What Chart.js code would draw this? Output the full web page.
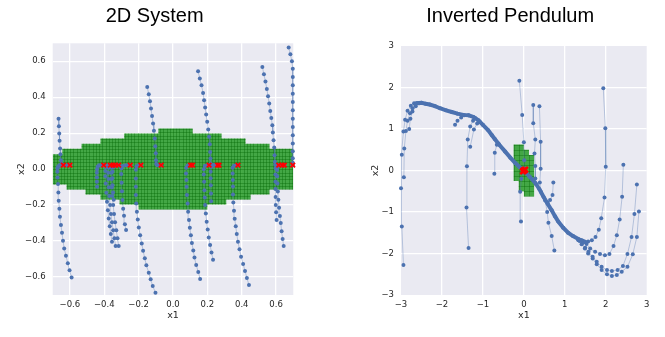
<!DOCTYPE html>
<html>
<head>
<meta charset="utf-8">
<script src="https://cdn.jsdelivr.net/npm/chart.js@4.4.1/dist/chart.umd.min.js"></script>
<style>
  html, body { margin: 0; padding: 0; background: #fff; }
  #wrap { position: relative; width: 665px; height: 337px; }
  .box { position: absolute; top: 0; height: 337px; }
</style>
</head>
<body>
<div id="wrap">
  <div class="box" style="left:0;width:332px"><canvas id="sys"></canvas></div>
  <div class="box" style="left:332px;width:333px"><canvas id="pend"></canvas></div>
</div>
<script>
// ---- 2D System ----
const sysTicks = [-0.6, -0.4, -0.2, 0.0, 0.2, 0.4, 0.6]
// region of attraction cells, upper and lower outline
const sysTopEdges = [-0.7, -0.644, -0.532, -0.422, -0.284, -0.085, 0.114, 0.282, 0.422, 0.561, 0.7]
const sysTopHeights = [0.083, 0.113, 0.141, 0.17, 0.198, 0.226, 0.198, 0.17, 0.141, 0.113]
const sysBottomEdges = [-0.7, -0.619, -0.509, -0.422, -0.311, -0.2, 0.2, 0.31, 0.451, 0.561, 0.7]
const sysBottomDepths = [-0.085, -0.113, -0.141, -0.169, -0.196, -0.224, -0.196, -0.169, -0.141, -0.113]
const sysCell = 0.0187

const sysTrajectories = [
  [[-0.59,-0.602],[-0.602,-0.563],[-0.612,-0.524],[-0.623,-0.481],[-0.633,-0.441],[-0.64,-0.398],[-0.646,-0.354],[-0.652,-0.311],[-0.658,-0.265],[-0.661,-0.22],[-0.665,-0.176],[-0.667,-0.13],[-0.669,-0.083],[-0.672,-0.046],[-0.673,-0.015],[-0.672,0.005],[-0.668,0.016],[-0.66,0.021],[-0.65,0.022],[-0.638,0.022]],
  [[-0.666,0.281],[-0.664,0.238],[-0.662,0.198],[-0.66,0.158],[-0.657,0.115],[-0.655,0.083],[-0.652,0.05],[-0.648,0.03],[-0.64,0.023],[-0.625,0.022],[-0.61,0.022],[-0.6,0.022]],
  [[-0.442,-0.098],[-0.443,-0.07],[-0.443,-0.045],[-0.443,-0.02],[-0.442,0.0],[-0.438,0.015],[-0.43,0.021],[-0.415,0.022],[-0.403,0.022]],
  [[-0.355,-0.404],[-0.362,-0.361],[-0.368,-0.317],[-0.374,-0.274],[-0.379,-0.228],[-0.384,-0.181],[-0.388,-0.131],[-0.391,-0.08],[-0.393,-0.04],[-0.393,-0.01],[-0.39,0.012],[-0.38,0.021],[-0.365,0.022]],
  [[-0.334,-0.428],[-0.341,-0.385],[-0.348,-0.34],[-0.355,-0.296],[-0.361,-0.25],[-0.366,-0.2],[-0.371,-0.15],[-0.374,-0.1],[-0.376,-0.055],[-0.377,-0.02],[-0.374,0.008],[-0.365,0.02],[-0.349,0.022]],
  [[-0.316,-0.428],[-0.323,-0.385],[-0.33,-0.34],[-0.337,-0.296],[-0.343,-0.25],[-0.348,-0.2],[-0.353,-0.15],[-0.356,-0.1],[-0.358,-0.055],[-0.359,-0.02],[-0.356,0.008],[-0.348,0.02],[-0.336,0.022]],
  [[-0.345,-0.17],[-0.349,-0.13],[-0.352,-0.09],[-0.353,-0.05],[-0.352,-0.015],[-0.345,0.012],[-0.33,0.021],[-0.316,0.022]],
  [[-0.273,-0.339],[-0.28,-0.307],[-0.285,-0.259],[-0.29,-0.22],[-0.294,-0.172],[-0.297,-0.123],[-0.299,-0.075],[-0.301,-0.027],[-0.3,0.005],[-0.293,0.018],[-0.275,0.022],[-0.26,0.022],[-0.249,0.022]],
  [[-0.102,-0.687],[-0.118,-0.65],[-0.13,-0.613],[-0.141,-0.576],[-0.155,-0.535],[-0.164,-0.496],[-0.174,-0.454],[-0.182,-0.413],[-0.191,-0.367],[-0.199,-0.324],[-0.205,-0.28],[-0.21,-0.237],[-0.214,-0.191],[-0.216,-0.144],[-0.216,-0.098],[-0.216,-0.052],[-0.216,-0.004],[-0.212,0.016],[-0.2,0.022],[-0.187,0.022]],
  [[-0.15,0.457],[-0.141,0.417],[-0.134,0.378],[-0.128,0.338],[-0.122,0.295],[-0.116,0.254],[-0.111,0.213],[-0.106,0.171],[-0.103,0.128],[-0.1,0.088],[-0.099,0.05],[-0.098,0.03],[-0.092,0.022],[-0.08,0.022],[-0.069,0.022]],
  [[0.158,-0.611],[0.147,-0.572],[0.135,-0.533],[0.125,-0.492],[0.118,-0.452],[0.11,-0.411],[0.104,-0.368],[0.098,-0.326],[0.093,-0.283],[0.088,-0.237],[0.085,-0.191],[0.081,-0.144],[0.079,-0.098],[0.078,-0.061],[0.076,-0.024],[0.077,0.008],[0.085,0.02],[0.1,0.022],[0.108,0.022]],
  [[0.233,-0.504],[0.224,-0.463],[0.216,-0.422],[0.208,-0.38],[0.202,-0.335],[0.196,-0.293],[0.191,-0.246],[0.187,-0.2],[0.185,-0.157],[0.183,-0.117],[0.181,-0.07],[0.179,-0.03],[0.179,0.0],[0.185,0.017],[0.198,0.022],[0.21,0.022]],
  [[0.146,0.544],[0.156,0.504],[0.166,0.467],[0.175,0.424],[0.181,0.383],[0.187,0.343],[0.193,0.304],[0.199,0.263],[0.205,0.221],[0.21,0.18],[0.214,0.139],[0.216,0.096],[0.218,0.059],[0.219,0.031],[0.225,0.023],[0.24,0.022],[0.259,0.022]],
  [[0.222,-0.178],[0.221,-0.135],[0.22,-0.09],[0.219,-0.05],[0.219,-0.015],[0.224,0.012],[0.24,0.021],[0.255,0.022],[0.268,0.022]],
  [[0.442,-0.644],[0.43,-0.605],[0.419,-0.566],[0.408,-0.527],[0.396,-0.487],[0.387,-0.446],[0.378,-0.404],[0.371,-0.361],[0.365,-0.317],[0.359,-0.276],[0.355,-0.231],[0.351,-0.185],[0.349,-0.141],[0.349,-0.096],[0.348,-0.06],[0.347,-0.024],[0.347,0.008],[0.355,0.019],[0.368,0.022],[0.378,0.022]],
  [[0.603,-0.283],[0.6,-0.24],[0.598,-0.2],[0.597,-0.155],[0.596,-0.11],[0.596,-0.07],[0.596,-0.03],[0.597,0.005],[0.603,0.018],[0.615,0.022]],
  [[0.644,-0.428],[0.638,-0.388],[0.632,-0.345],[0.627,-0.3],[0.622,-0.26],[0.617,-0.215],[0.613,-0.17],[0.61,-0.125],[0.608,-0.08],[0.606,-0.04],[0.606,-0.005],[0.612,0.015],[0.628,0.021],[0.648,0.022]],
  [[0.52,0.568],[0.529,0.528],[0.538,0.487],[0.546,0.446],[0.553,0.406],[0.56,0.365],[0.566,0.324],[0.572,0.285],[0.578,0.244],[0.581,0.204],[0.585,0.161],[0.589,0.12],[0.591,0.078],[0.593,0.041],[0.595,0.025],[0.605,0.022],[0.62,0.022],[0.635,0.022]],
  [[0.673,0.676],[0.683,0.639],[0.692,0.6],[0.697,0.559],[0.697,0.513],[0.697,0.467],[0.697,0.42],[0.697,0.374],[0.697,0.328],[0.697,0.281],[0.697,0.235],[0.697,0.189],[0.697,0.143],[0.697,0.1],[0.697,0.06],[0.697,0.035],[0.697,0.022]]
]
const sysEndX = [-0.638, -0.6, -0.403, -0.365, -0.349, -0.336, -0.316, -0.249, -0.187, -0.069, 0.102, 0.114, 0.21, 0.259, 0.268, 0.378, 0.615, 0.635, 0.648, 0.697]
const sysEndY = 0.022

// ---- Inverted Pendulum ----
const pendTicks = [-3, -2, -1, 0, 1, 2, 3]
const pendCellLeft = [-0.25, -0.125, 0, 0.125]
const pendCellLow = [-0.25, -0.5, -0.625, -0.625]
const pendCellHigh = [0.625, 0.625, 0.5, 0.375]
const pendCell = 0.125

const pendManifold = [
  [[-2.62,1.62],[-2.5,1.63],[-2.4,1.61],[-2.3,1.59],[-2.17,1.55],[-2.05,1.5],[-1.9,1.45],[-1.76,1.41],[-1.62,1.37],[-1.48,1.34],[-1.35,1.33],[-1.23,1.29],[-1.11,1.21],[-1.0,1.1],[-0.87,0.97],[-0.78,0.85],[-0.71,0.76],[-0.6,0.62],[-0.46,0.46],[-0.33,0.31],[-0.21,0.18],[-0.1,0.08],[0,0]],
  [[1.5,-1.72],[1.4,-1.68],[1.33,-1.65],[1.2,-1.58],[1.08,-1.5],[0.96,-1.38],[0.84,-1.23],[0.76,-1.1],[0.68,-0.96],[0.58,-0.8],[0.48,-0.63],[0.38,-0.45],[0.28,-0.3],[0.14,-0.15],[0,0]]
]
const pendTrajectories = [
  [[-2.94,-2.28],[-2.98,-1.35],[-3.0,-0.43],[-2.98,0.38],[-2.94,0.94],[-2.9,1.22],[-2.84,1.44],[-2.76,1.56],[-2.68,1.62],[-2.62,1.62]],
  [[-2.93,-0.16],[-2.92,0.53],[-2.88,0.95],[-2.84,1.2],[-2.78,1.38],[-2.72,1.5],[-2.65,1.58],[-2.58,1.62]],
  [[-2.8,1.0],[-2.77,1.25],[-2.72,1.42],[-2.64,1.55],[-2.55,1.62]],
  [[-1.35,-1.87],[-1.4,-0.89],[-1.39,0.1],[-1.37,0.75],[-1.31,1.06],[-1.24,1.2],[-1.18,1.26]],
  [[-1.31,0.57],[-1.22,0.99],[-1.14,1.13],[-1.08,1.18]],
  [[-1.68,1.1],[-1.62,1.2],[-1.53,1.28],[-1.45,1.33]],
  [[-0.72,-0.08],[-0.71,0.43],[-0.66,0.62],[-0.62,0.65]],
  [[-0.07,-1.23],[-0.09,-0.51],[-0.06,-0.2],[-0.02,-0.05],[0,0]],
  [[-0.11,2.16],[-0.04,1.34],[0.0,0.68],[0.01,0.25],[0,0.05],[0,0]],
  [[0.23,1.58],[0.23,1.14],[0.28,0.75],[0.26,0.41],[0.28,0.11],[0.28,-0.19],[0.3,-0.33]],
  [[0.38,1.55],[0.41,0.69],[0.41,0.04],[0.39,-0.29],[0.42,-0.52]],
  [[0.72,-0.29],[0.7,-0.59],[0.64,-0.71],[0.58,-0.78]],
  [[0.745,-1.93],[0.68,-1.58],[0.6,-1.26],[0.57,-1.0],[0.52,-0.72]],
  [[1.94,1.98],[1.99,1.02],[2.0,0.09],[1.97,-0.65],[1.89,-1.15],[1.83,-1.43],[1.75,-1.6],[1.66,-1.68],[1.57,-1.71],[1.5,-1.72]],
  [[2.43,0.14],[2.4,-0.63],[2.34,-1.18],[2.27,-1.56],[2.19,-1.82],[2.09,-2.01],[1.98,-2.04],[1.86,-2.01],[1.74,-1.96],[1.62,-1.88],[1.53,-1.77],[1.44,-1.71],[1.36,-1.67]],
  [[2.76,-0.34],[2.7,-1.05],[2.63,-1.6],[2.53,-2.01],[2.42,-2.3],[2.29,-2.4],[2.15,-2.42],[2.03,-2.4],[1.9,-2.32],[1.78,-2.2],[1.68,-2.08],[1.58,-1.96],[1.5,-1.86],[1.42,-1.76],[1.36,-1.7]],
  [[2.81,-0.99],[2.76,-1.6],[2.66,-2.02],[2.53,-2.32],[2.39,-2.44],[2.27,-2.52],[2.15,-2.54],[2.03,-2.5],[1.9,-2.4],[1.78,-2.26],[1.68,-2.12],[1.57,-2.0],[1.49,-1.88],[1.41,-1.78],[1.33,-1.68]]
]
const pendEnd = [[0, 0], [0.03, 0.02], [-0.02, -0.02]]

const blue = "#4c72b0"
const tickFont = { family: "DejaVu Sans", size: 8.5 }
const labelFont = { family: "DejaVu Sans", size: 9.5 }
const textColor = "#262626"

const toPts = arr => arr.map(([x, y]) => ({ x, y }))
const minus = s => s.replace("-", "\u2212")

const background = {
  id: "background",
  beforeDraw(chart) {
    const { ctx, chartArea: a } = chart
    ctx.save()
    ctx.fillStyle = "#eaeaf2"
    ctx.fillRect(a.left, a.top, a.width, a.height)
    ctx.restore()
  }
}

// green cells: fill the union of blocks, then draw cell edges inside it
function cellLayer(blocks, size) {
  return {
    id: "cells",
    beforeDatasetsDraw(chart) {
      const { ctx, chartArea: a, scales: { x, y } } = chart
      ctx.save()
      ctx.beginPath()
      ctx.rect(a.left, a.top, a.width, a.height)
      ctx.clip()
      ctx.beginPath()
      let xmin = Infinity, xmax = -Infinity, ymin = Infinity, ymax = -Infinity
      blocks.forEach(([x0, x1, y0, y1]) => {
        const l = x.getPixelForValue(x0), r = x.getPixelForValue(x1)
        const t = y.getPixelForValue(y1), b = y.getPixelForValue(y0)
        ctx.rect(l, t, r - l, b - t)
        xmin = Math.min(xmin, x0); xmax = Math.max(xmax, x1)
        ymin = Math.min(ymin, y0); ymax = Math.max(ymax, y1)
      })
      ctx.fillStyle = "rgba(25,150,25,0.8)"
      ctx.fill()
      ctx.clip()
      ctx.strokeStyle = "rgba(0,100,0,0.35)"
      ctx.lineWidth = 1
      ctx.beginPath()
      for (let v = Math.floor(xmin / size) * size; v <= xmax + 1e-9; v += size) {
        const p = Math.round(x.getPixelForValue(v)) + 0.5
        ctx.moveTo(p, y.getPixelForValue(ymax)); ctx.lineTo(p, y.getPixelForValue(ymin))
      }
      for (let v = Math.floor(ymin / size) * size; v <= ymax + 1e-9; v += size) {
        const p = Math.round(y.getPixelForValue(v)) + 0.5
        ctx.moveTo(x.getPixelForValue(xmin), p); ctx.lineTo(x.getPixelForValue(xmax), p)
      }
      ctx.stroke()
      ctx.restore()
    }
  }
}

// lower "order" draws on top
function trajectoryDataset(points, thick) {
  return {
    data: toPts(points),
    showLine: true,
    order: thick ? 1 : 2,
    borderColor: thick ? blue : "rgba(76,114,176,0.35)",
    borderWidth: thick ? 4 : 1,
    pointRadius: 2,
    pointBackgroundColor: blue,
    pointBorderWidth: 0,
    clip: 2
  }
}

function crossDataset(points, radius, width) {
  return {
    data: toPts(points),
    order: 0,
    pointStyle: "crossRot",
    pointRadius: radius,
    pointBorderColor: "#ff0000",
    borderColor: "#ff0000",
    pointBorderWidth: width,
    borderWidth: width,
    clip: 5
  }
}

function axis(min, max, ticks, fmt, fitSize, isX, titlePad) {
  return {
    type: "linear", min, max,
    afterBuildTicks: s => { s.ticks = ticks.map(v => ({ value: v })) },
    ticks: { callback: fmt, font: tickFont, color: textColor, padding: isX ? 5 : 7, autoSkip: false, maxRotation: 0 },
    grid: { color: c => (c.tick && (c.tick.value <= min || c.tick.value >= max)) ? "rgba(0,0,0,0)" : "#ffffff", lineWidth: 1.3, drawTicks: false },
    border: { display: false },
    title: { display: true, text: isX ? "x1" : "x2", font: labelFont, color: textColor, padding: titlePad },
    afterFit: s => { if (isX) s.height = fitSize; else s.width = fitSize }
  }
}

function makeChart(id, cfg) {
  return new Chart(document.getElementById(id), {
    type: "scatter",
    data: { datasets: cfg.datasets },
    options: {
      responsive: true,
      maintainAspectRatio: false,
      animation: false,
      layout: { padding: cfg.padding },
      plugins: {
        legend: { display: false },
        tooltip: { enabled: false },
        title: {
          display: true, text: cfg.title, color: "#000",
          font: { family: "Liberation Sans", size: 20, weight: "normal", lineHeight: 1.2 },
          padding: { top: 4.5, bottom: cfg.titleBottom }
        }
      },
      scales: { x: cfg.x, y: cfg.y }
    },
    plugins: [background, cfg.cells]
  })
}

// 2D System chart
const sysBlocks = []
sysTopHeights.forEach((h, i) => sysBlocks.push([sysTopEdges[i], sysTopEdges[i + 1], 0, h]))
sysBottomDepths.forEach((d, i) => sysBlocks.push([sysBottomEdges[i], sysBottomEdges[i + 1], d, 0]))

const sysFmt = v => minus(Number(v).toFixed(1))
makeChart("sys", {
  title: "2D System",
  titleBottom: 14.8,
  padding: { left: 16, right: 38.7, top: 0, bottom: 16 },
  x: axis(-0.7, 0.7, sysTicks, sysFmt, 26, true, 0),
  y: axis(-0.7, 0.7, sysTicks, sysFmt, 36.7, false, 0),
  cells: cellLayer(sysBlocks, sysCell),
  datasets: [
    ...sysTrajectories.map(t => trajectoryDataset(t, false)),
    crossDataset(sysEndX.map(x => [x, sysEndY]), 3.2, 1.8)
  ]
})

// Inverted Pendulum chart
const pendBlocks = pendCellLeft.map((l, i) => [l, l + pendCell, pendCellLow[i], pendCellHigh[i]])
const pendFmt = v => minus(String(v))
makeChart("pend", {
  title: "Inverted Pendulum",
  titleBottom: 17.5,
  padding: { left: 41.7, right: 18.3, top: 0, bottom: 16 },
  x: axis(-3, 3, pendTicks, pendFmt, 26, true, 0),
  y: axis(-3, 3, pendTicks, pendFmt, 27.3, false, { top: -4, bottom: 0 }),
  cells: cellLayer(pendBlocks, pendCell),
  datasets: [
    ...pendManifold.map(t => trajectoryDataset(t, true)),
    ...pendTrajectories.map(t => trajectoryDataset(t, false)),
    crossDataset(pendEnd, 4, 2.5)
  ]
})
</script>
</body>
</html>
